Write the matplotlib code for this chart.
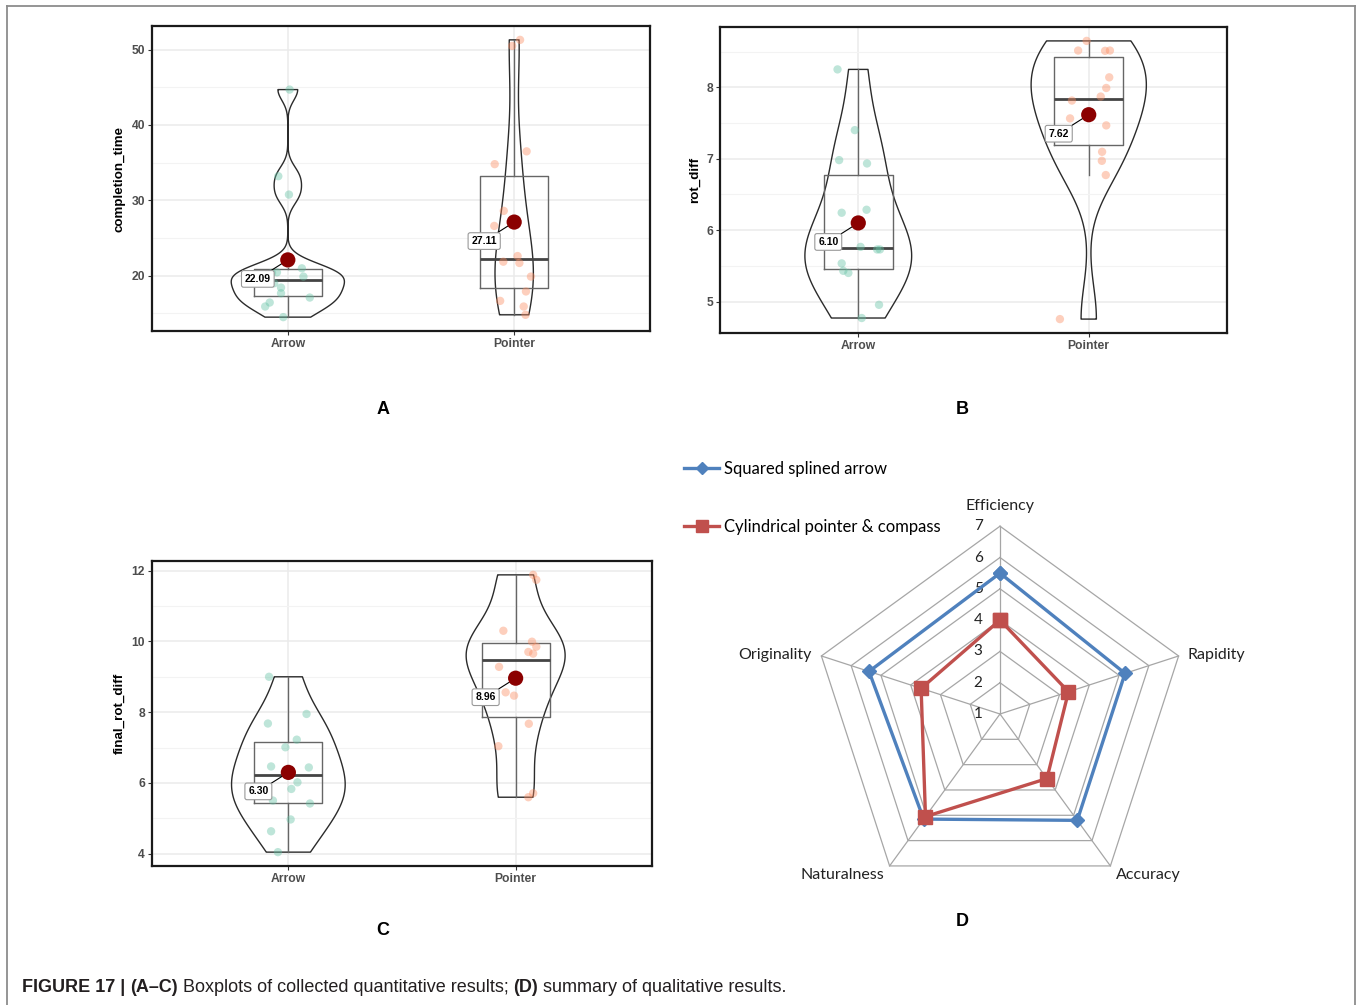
import numpy as np
import matplotlib
matplotlib.use('Agg')
import matplotlib.pyplot as plt
from matplotlib.lines import Line2D

## ---------------- data ----------------
groups = ['Arrow', 'Pointer']

ct_arrow = [44.7, 33.2, 30.76, 20.35, 20.44, 20.97, 19.87, 18.99, 18.41, 17.66, 17.09, 16.43, 15.90, 14.49]
ct_arrow_x = [1.008, 0.958, 1.005, 0.93, 0.952, 1.062, 1.069, 0.94, 0.97, 0.97, 1.097, 0.92, 0.90, 0.98]
ct_pointer = [51.3, 50.5, 36.5, 34.8, 28.6, 26.6, 22.6, 21.85, 21.68, 19.87, 17.9, 16.65, 15.9, 14.8]
ct_pointer_x = [2.026, 1.991, 2.055, 1.914, 1.954, 1.912, 2.015, 1.952, 2.023, 2.074, 2.052, 1.938, 2.042, 2.05]

rd_arrow = [8.25, 7.40, 6.98, 6.933, 6.243, 6.285, 5.765, 5.729, 5.729, 5.534, 5.43, 5.40, 4.954, 4.769]
rd_arrow_x = [0.91, 0.985, 0.917, 1.038, 0.928, 1.036, 1.01, 1.082, 1.094, 0.928, 0.935, 0.957, 1.09, 1.015]
rd_pointer = [8.649, 8.514, 8.51, 8.514, 8.139, 7.99, 7.87, 7.814, 7.564, 7.466, 7.096, 6.97, 6.771, 4.754]
rd_pointer_x = [1.991, 1.954, 2.071, 2.092, 2.089, 2.076, 2.052, 1.927, 1.919, 2.076, 2.058, 2.057, 2.074, 1.875]

frd_arrow = [9.0, 7.95, 7.68, 7.224, 7.009, 6.467, 6.439, 6.019, 5.832, 5.505, 5.421, 4.97, 4.636, 4.047]
frd_arrow_x = [0.915, 1.08, 0.91, 1.037, 0.987, 0.924, 1.09, 1.04, 1.013, 0.932, 1.095, 1.01, 0.924, 0.954]
frd_pointer = [11.879, 11.738, 10.3, 9.991, 9.85, 9.701, 9.654, 9.28, 8.561, 8.467, 7.673, 7.04, 5.71, 5.598]
frd_pointer_x = [2.077, 2.091, 1.946, 2.072, 2.091, 2.056, 2.077, 1.927, 1.956, 1.993, 2.058, 1.924, 2.077, 2.056]

radar_cats = ['Efficiency', 'Rapidity', 'Accuracy', 'Naturalness', 'Originality']
radar_arrow = [5.5, 5.2, 5.2, 5.15, 5.4]
radar_pointer = [4.0, 3.3, 3.55, 5.05, 3.65]
radar_ticks = [1, 2, 3, 4, 5, 6, 7]
series_names = ['Squared splined arrow', 'Cylindrical pointer & compass']

W, H = 1357, 1005
fig = plt.figure(figsize=(W/100, H/100), dpi=100)

def box(l, t, r, b):
    return [l/W, 1-b/H, (r-l)/W, (b-t)/H]

def kde_nrd0(v, grid):
    v = np.asarray(v)
    n = len(v)
    q75, q25 = np.percentile(v, [75, 25])
    bw = 0.9*min(np.std(v, ddof=1), (q75-q25)/1.34)*n**-0.2
    z = (grid[:, None]-v[None, :])/bw
    return np.exp(-0.5*z**2).sum(1)/(n*bw*np.sqrt(2*np.pi))

cols = ['#66C2A5', '#FC8D62']
alphas = [0.42, 0.42]

def panel(ax, data, jit, ylabel, ticks):
    dens = []
    for v in data:
        g = np.linspace(min(v), max(v), 512)
        dens.append((g, kde_nrd0(v, g)))
    dmax = max(d.max() for g, d in dens)
    for i, (g, d) in enumerate(dens):
        w = 0.25*d/dmax
        ax.fill_betweenx(g, i+1-w, i+1+w, facecolor='none', edgecolor='#2b2b2b', lw=1.0, zorder=2)
    ax.boxplot(data, positions=[1, 2], widths=0.3, showfliers=False, showcaps=False,
               medianprops=dict(color='#444444', lw=2.0),
               boxprops=dict(color='#666666', lw=1.0),
               whiskerprops=dict(color='#666666', lw=1.0), zorder=2)
    for i, v in enumerate(data):
        ax.scatter(jit[i], v, s=36, color=cols[i], alpha=alphas[i], edgecolors='none', zorder=3)
        m = np.mean(v)
        ax.scatter(i+1, m, s=120, color='#8B0000', edgecolors='none', zorder=5)
        ax.annotate('%.2f' % m, xy=(i+1, m), xytext=(-30, -19), textcoords='offset pixels',
                    ha='center', va='center', fontsize=7.5, fontweight='bold',
                    family='Liberation Sans',
                    bbox=dict(boxstyle='round,pad=0.32,rounding_size=0.2', fc='white', ec='#999999', lw=0.8),
                    arrowprops=dict(arrowstyle='-', color='black', lw=0.8, shrinkA=0, shrinkB=3),
                    zorder=4)
    ax.set_xticks([1, 2])
    ax.set_xticklabels(groups)
    ax.set_yticks(ticks)
    step = ticks[1]-ticks[0]
    ax.set_yticks(np.arange(ticks[0]-step/2, ticks[-1]+step, step), minor=True)
    allv = np.concatenate(data)
    rng = allv.max()-allv.min()
    ax.set_ylim(allv.min()-0.05*rng, allv.max()+0.05*rng)
    ax.set_xlim(0.4, 2.6)
    ax.grid(which='major', color='#EBEBEB', lw=1.1)
    ax.grid(which='minor', axis='y', color='#F3F3F3', lw=0.8)
    ax.set_axisbelow(True)
    ax.tick_params(which='major', length=3, width=0.8, color='#333333', labelsize=8.7,
                   labelcolor='#4D4D4D', pad=2)
    ax.tick_params(which='minor', length=0)
    for lbl in ax.get_xticklabels()+ax.get_yticklabels():
        lbl.set_fontweight('bold')
        lbl.set_family('Liberation Sans')
    ax.set_ylabel(ylabel, fontsize=9.6, fontweight='bold', family='Liberation Sans', labelpad=4)
    for s in ax.spines.values():
        s.set_color('#1a1a1a')
        s.set_linewidth(1.6)

axA = fig.add_axes(box(152, 26, 650, 331))
panel(axA, [ct_arrow, ct_pointer], [ct_arrow_x, ct_pointer_x], 'completion_time', [20, 30, 40, 50])
axB = fig.add_axes(box(720, 27, 1227, 333))
panel(axB, [rd_arrow, rd_pointer], [rd_arrow_x, rd_pointer_x], 'rot_diff', [5, 6, 7, 8])
axC = fig.add_axes(box(152, 561, 652, 866))
panel(axC, [frd_arrow, frd_pointer], [frd_arrow_x, frd_pointer_x], 'final_rot_diff', [4, 6, 8, 10, 12])

## ---------------- radar (D) ----------------
cx, cy, ppu = 1000, 714, 31.3
rl, rt, rr, rb = 680, 440, 1320, 900
axD = fig.add_axes(box(rl, rt, rr, rb))
axD.set_xlim((rl-cx)/ppu, (rr-cx)/ppu)
axD.set_ylim(-(rb-cy)/ppu, (cy-rt)/ppu)
axD.axis('off')

theta = np.deg2rad(90-72*np.arange(len(radar_cats)))
rmin = radar_ticks[0]
for k in radar_ticks[1:]:
    r = k-rmin
    axD.plot(np.r_[r*np.cos(theta), r*np.cos(theta[0])], np.r_[r*np.sin(theta), r*np.sin(theta[0])],
             color='#A6A6A6', lw=0.9, zorder=1)
rmax = radar_ticks[-1]-rmin
for t in theta:
    axD.plot([0, rmax*np.cos(t)], [0, rmax*np.sin(t)], color='#A6A6A6', lw=0.9, zorder=1)
for k in radar_ticks:
    axD.text(-0.7, k-rmin, str(k), ha='center', va='center', fontsize=11, family='Lato', color='#222222')

for vals, c, mk, ms in [(radar_arrow, '#4F81BD', 'D', 7.5), (radar_pointer, '#C0504D', 's', 10)]:
    r = np.array(vals)-rmin
    axD.plot(np.r_[r*np.cos(theta), r[0]*np.cos(theta[0])], np.r_[r*np.sin(theta), r[0]*np.sin(theta[0])],
             color=c, lw=2.4, marker=mk, ms=ms, zorder=3)

lab_off = [(0, 0.65, 'center'), (0.3, 0.03, 'left'), (1.2, -0.3, 'center'), (-1.5, -0.3, 'center'), (-0.3, 0.03, 'right')]
for t, name, (dx, dy, ha) in zip(theta, radar_cats, lab_off):
    axD.text(rmax*np.cos(t)+dx, rmax*np.sin(t)+dy, name, ha=ha, va='center', fontsize=11.5,
             family='Lato', color='#222222')

handles = [Line2D([], [], color='#4F81BD', lw=2.4, marker='D', ms=6),
           Line2D([], [], color='#C0504D', lw=2.4, marker='s', ms=9)]
fig.legend(handles, series_names, loc='upper left', bbox_to_anchor=(684/W, 1-461/H),
           frameon=False, borderpad=0, borderaxespad=0, handlelength=2.1, handletextpad=0.3,
           labelspacing=2.5, prop=dict(family='Lato', size=12))

## ---------------- panel letters, caption, frame ----------------
for lt, (px, py) in zip('ABCD', [(383, 410), (962, 410), (383, 930), (962, 921)]):
    fig.text(px/W, 1-py/H, lt, ha='center', va='center', fontsize=13, fontweight='bold',
             family='Liberation Sans')

cap = fig.add_axes([0, 0, 1, 1])
cap.axis('off')
cap.set_xlim(0, 1)
cap.set_ylim(0, 1)
parts = [('FIGURE 17 | ', 'bold'), ('(A\u2013C)', 'bold'), (' Boxplots of collected quantitative results; ', 'normal'),
         ('(D)', 'bold'), (' summary of qualitative results.', 'normal')]
fam = ['Liberation Sans Narrow', 'Liberation Sans']
prev = cap.text(22/W, 1-996/H, parts[0][0], fontweight=parts[0][1], fontsize=13.0, family=fam,
                color='#231f20', ha='left', va='bottom')
for txt, wt in parts[1:]:
    prev = cap.annotate(txt, xy=(1, 0), xycoords=prev, ha='left', va='bottom', fontweight=wt,
                        fontsize=13.0, family=fam, color='#231f20')

fc = '#8c8c8c'
cap.plot([7/W, 7/W], [0, 1-6/H], color=fc, lw=1.3)
cap.plot([7/W, 1355/W], [1-6/H, 1-6/H], color=fc, lw=1.3)
cap.plot([1355/W, 1355/W], [0, 1-6/H], color=fc, lw=1.3)

fig.savefig('out.png', dpi=100)
